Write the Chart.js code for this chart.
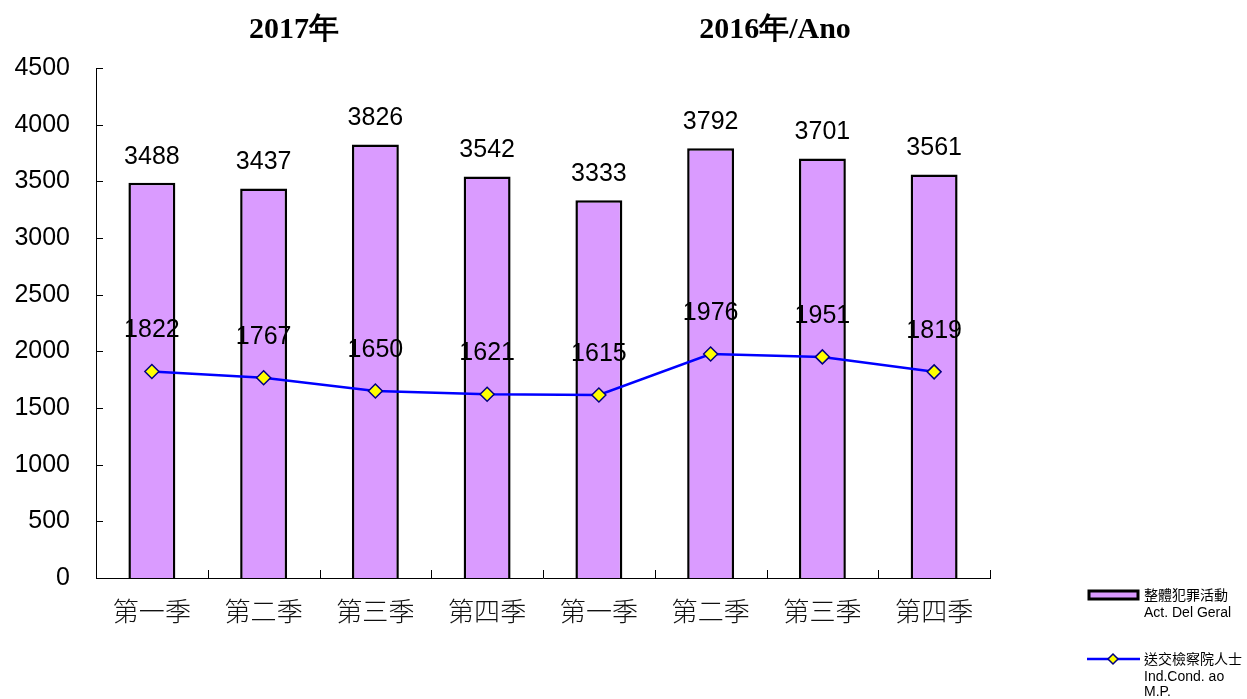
<!DOCTYPE html>
<html>
<head>
<meta charset="utf-8">
<script src="https://cdn.jsdelivr.net/npm/chart.js@4"></script>
<style>
  body { margin: 0; background: #fff; }
  #wrap { width: 1247px; height: 699px; position: relative; }
</style>
</head>
<body>
<div id="wrap"><canvas id="crimeChart" width="1247" height="699"></canvas></div>
<script>
const quarters = ['第一季', '第二季', '第三季', '第四季', '第一季', '第二季', '第三季', '第四季'];
const totalCrime = [3488, 3437, 3826, 3542, 3333, 3792, 3701, 3561];
const sentToMP = [1822, 1767, 1650, 1621, 1615, 1976, 1951, 1819];
const yTicks = [0, 500, 1000, 1500, 2000, 2500, 3000, 3500, 4000, 4500];
const yearTitles = ['2017年', '2016年/Ano'];

const numFont = '25px "Liberation Sans", Arial, sans-serif';

// labels above bars and points, titles, inner tick marks, legend
const extrasPlugin = {
    id: 'extras',
    afterDraw(chart) {
        const ctx = chart.ctx;
        const area = chart.chartArea;
        const y = chart.scales.y;

        ctx.save();
        // tick marks pointing inward
        ctx.strokeStyle = '#000';
        ctx.lineWidth = 1;
        yTicks.forEach(v => {
            const py = Math.round(y.getPixelForValue(v)) + 0.5;
            ctx.beginPath();
            ctx.moveTo(area.left, py);
            ctx.lineTo(area.left + 7, py);
            ctx.stroke();
        });
        const catW = (area.right - area.left) / quarters.length;
        for (let i = 0; i <= quarters.length; i++) {
            const px = Math.round(area.left + i * catW) + 0.5;
            ctx.beginPath();
            ctx.moveTo(px, area.bottom);
            ctx.lineTo(px, area.bottom - 8);
            ctx.stroke();
        }

        // value labels
        ctx.fillStyle = '#000';
        ctx.font = numFont;
        ctx.textAlign = 'center';
        ctx.textBaseline = 'middle';
        chart.getDatasetMeta(0).data.forEach((el, i) => {
            ctx.fillText(totalCrime[i], el.x, el.y - 26);
        });
        chart.getDatasetMeta(1).data.forEach((el, i) => {
            ctx.fillText(sentToMP[i], el.x, el.y - 41);
        });

        // year titles
        ctx.font = 'bold 30px "Liberation Serif", "Times New Roman", serif';
        ctx.fillText(yearTitles[0], 294, 30);
        ctx.fillText(yearTitles[1], 775, 30);

        // legend
        ctx.fillStyle = '#DA9BFF';
        ctx.fillRect(1089, 591, 49, 8);
        ctx.strokeStyle = '#000';
        ctx.lineWidth = 3;
        ctx.strokeRect(1089, 591, 49, 8);

        ctx.strokeStyle = '#0000FF';
        ctx.lineWidth = 2.5;
        ctx.beginPath();
        ctx.moveTo(1087, 659);
        ctx.lineTo(1140, 659);
        ctx.stroke();
        ctx.fillStyle = '#FFFF00';
        ctx.strokeStyle = '#000080';
        ctx.lineWidth = 1.5;
        ctx.beginPath();
        ctx.moveTo(1113, 654);
        ctx.lineTo(1118, 659);
        ctx.lineTo(1113, 664);
        ctx.lineTo(1108, 659);
        ctx.closePath();
        ctx.fill();
        ctx.stroke();

        ctx.fillStyle = '#000';
        ctx.textAlign = 'left';
        ctx.font = '14px "Noto Sans CJK TC", sans-serif';
        ctx.fillText('整體犯罪活動', 1144, 595);
        ctx.fillText('送交檢察院人士', 1144, 659);
        ctx.font = '14px "Liberation Sans", Arial, sans-serif';
        ctx.fillText('Act. Del Geral', 1144, 613);
        ctx.fillText('Ind.Cond. ao', 1144, 677);
        ctx.fillText('M.P.', 1144, 692);
        ctx.restore();
    }
};

new Chart(document.getElementById('crimeChart').getContext('2d'), {
    data: {
        labels: quarters,
        datasets: [
            {
                type: 'bar',
                label: '整體犯罪活動 Act. Del Geral',
                data: totalCrime,
                backgroundColor: '#DA9BFF',
                borderColor: '#000',
                borderWidth: 2.5,
                categoryPercentage: 1,
                barPercentage: 0.42,
                order: 2
            },
            {
                type: 'line',
                label: '送交檢察院人士 Ind.Cond. ao M.P.',
                data: sentToMP,
                borderColor: '#0000FF',
                borderWidth: 2.5,
                pointStyle: 'rectRot',
                pointRadius: 7,
                pointBackgroundColor: '#FFFF00',
                pointBorderColor: '#000080',
                pointBorderWidth: 1.5,
                tension: 0,
                order: 1
            }
        ]
    },
    options: {
        responsive: false,
        animation: false,
        layout: { padding: { left: 0, right: 257, top: 68, bottom: 0 } },
        plugins: {
            legend: { display: false },
            tooltip: { enabled: false }
        },
        scales: {
            x: {
                grid: { display: false, drawTicks: false },
                border: { display: true, color: '#000', width: 1 },
                ticks: {
                    color: '#111',
                    padding: 18,
                    font: { family: '"Noto Sans CJK TC", sans-serif', size: 26, weight: 300 }
                },
                afterFit(scale) { scale.height = 121; }
            },
            y: {
                min: 0,
                max: 4500,
                grid: { display: false, drawTicks: false },
                border: { display: true, color: '#000', width: 1 },
                afterBuildTicks(scale) { scale.ticks = yTicks.map(v => ({ value: v })); },
                ticks: {
                    color: '#000',
                    padding: 26,
                    callback: v => String(v),
                    font: { family: '"Liberation Sans", Arial, sans-serif', size: 25 }
                },
                afterFit(scale) { scale.width = 96; }
            }
        }
    },
    plugins: [extrasPlugin]
});
</script>
</body>
</html>
